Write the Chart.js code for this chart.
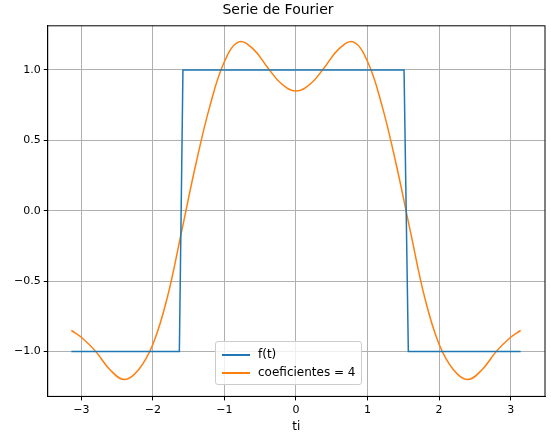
<!DOCTYPE html>
<html><head><meta charset="utf-8">
<script src="https://cdn.jsdelivr.net/npm/chart.js@4"></script>
<style>
body{margin:0;background:#fff;font-family:"DejaVu Sans";}
#wrap{position:relative;width:551px;height:438px;}
#leg{position:absolute;left:215px;top:341px;border:1px solid #ccc;border-radius:3px;background:rgba(255,255,255,0.8);padding:3px 6px;font-size:12px;line-height:18px;color:#000;}
.sw{display:inline-block;width:28px;height:2px;vertical-align:middle;margin-right:8px;}
</style></head><body>
<div id="wrap"><canvas id="c" width="551" height="438"></canvas>
<div id="leg"><div><span class="sw" style="background:#1f77b4"></span>f(t)</div><div><span class="sw" style="background:#ff7f0e"></span>coeficientes = 4</div></div></div>
<script>
const squareT=[-3.14,-1.63,-1.58,1.51,1.57,3.14];
const squareY=[-1,-1,1,1,-1,-1];
const approxT=[-3.14,-3.0,-2.8,-2.6,-2.4,-2.2,-2.0,-1.8,-1.6,-1.4,-1.2,-1.0,-0.8,-0.6,-0.4,-0.2,0,0.2,0.4,0.6,0.8,1.0,1.2,1.4,1.6,1.8,2.0,2.2,2.4,2.6,2.8,3.0,3.14];
const approxY=[-0.85,-0.9,-1.0,-1.13,-1.2,-1.13,-0.95,-0.62,-0.15,0.33,0.75,1.06,1.2,1.15,1.02,0.9,0.85,0.9,1.02,1.15,1.2,1.06,0.75,0.33,-0.15,-0.62,-0.95,-1.13,-1.2,-1.13,-1.0,-0.9,-0.85];
const xTicks=[-3,-2,-1,0,1,2,3];
const yTicks=[-1.0,-0.5,0.0,0.5,1.0];
const pts=(a,b)=>a.map((t,i)=>({x:t,y:b[i]}));
const frame={id:'frame',afterDraw(ch){const a=ch.chartArea,c=ch.ctx;c.save();c.strokeStyle='#000';c.lineWidth=1;c.strokeRect(a.left,a.top,a.right-a.left,a.bottom-a.top);c.restore();}};
new Chart(document.getElementById('c'),{type:'line',plugins:[frame],
data:{datasets:[
{data:pts(squareT,squareY),borderColor:'#1f77b4',borderWidth:1.5,pointRadius:0,tension:0},
{data:pts(approxT,approxY),borderColor:'#ff7f0e',borderWidth:1.5,pointRadius:0,tension:0.4}]},
options:{responsive:false,animation:false,
layout:{padding:{left:11,right:6,top:0,bottom:0}},
plugins:{legend:{display:false},tooltip:{enabled:false},
title:{display:true,text:'Serie de Fourier',color:'#000',font:{family:'DejaVu Sans',size:14,weight:'normal'},padding:{top:2,bottom:7}}},
scales:{
x:{type:'linear',min:-3.47,max:3.48,afterBuildTicks:s=>{s.ticks=xTicks.map(v=>({value:v}));},
title:{display:true,text:'ti',color:'#000',font:{family:'DejaVu Sans',size:12},padding:{top:0}},
ticks:{color:'#000',font:{family:'DejaVu Sans',size:11},callback:v=>String(v).replace('-','\u2212')},
grid:{color:'#b0b0b0',tickColor:'#000',tickLength:4},border:{color:'#000'}},
y:{min:-1.32,max:1.314,afterBuildTicks:s=>{s.ticks=yTicks.map(v=>({value:v}));},
ticks:{color:'#000',font:{family:'DejaVu Sans',size:11},callback:v=>v.toFixed(1).replace('-','\u2212')},
grid:{color:'#b0b0b0',tickColor:'#000',tickLength:4},border:{color:'#000'}}}}});
</script></body></html>
